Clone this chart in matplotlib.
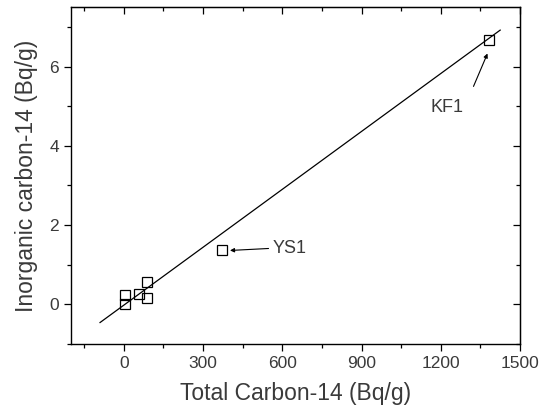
import numpy as np
import matplotlib
matplotlib.use("Agg")
from matplotlib import pyplot as plt
from matplotlib.ticker import MultipleLocator

plt.rcParams['font.family'] = ['Liberation Sans', 'DejaVu Sans']

# measured samples
total_c14 = [5, 5, 57, 87, 87, 371, 1382]
inorganic_c14 = [0.23, 0.02, 0.27, 0.57, 0.17, 1.38, 6.68]

# fitted line
fit_slope = 0.00487
fit_intercept = -0.02
fit_x_range = [-90, 1425]

text_color = '#3a3a3a'

fig = plt.figure(figsize=(5.52, 4.19), dpi=100)
ax = fig.add_axes([0.1286, 0.179, 0.8134, 0.804])

fx = np.array(fit_x_range)
ax.plot(fx, fit_slope * fx + fit_intercept, color='black', lw=0.9)
ax.plot(total_c14, inorganic_c14, ls='none', marker='s', ms=6.5,
        mfc='none', mec='black', mew=0.9)

arrow = dict(arrowstyle='-|>', color='black', lw=0.8, mutation_scale=6,
             shrinkA=0, shrinkB=0)
ax.annotate('', xy=(402, 1.36), xytext=(548, 1.41), arrowprops=arrow)
ax.text(565, 1.40, 'YS1', fontsize=13, color=text_color, ha='left', va='center')
ax.annotate('', xy=(1377, 6.33), xytext=(1324, 5.50), arrowprops=arrow)
ax.text(1224, 4.97, 'KF1', fontsize=13, color=text_color, ha='center', va='center')

ax.set_xlim(-200, 1500)
ax.set_ylim(-1, 7.5)
ax.xaxis.set_major_locator(MultipleLocator(300))
ax.xaxis.set_minor_locator(MultipleLocator(150))
ax.yaxis.set_major_locator(MultipleLocator(2))
ax.yaxis.set_minor_locator(MultipleLocator(1))

ax.tick_params(which='both', direction='out', top=False, right=False,
               labelsize=12.5, labelcolor=text_color, width=0.9)
ax.tick_params(which='major', length=5)
ax.tick_params(which='minor', length=3)

# mirrored inside ticks on top/right
sec_x = ax.secondary_xaxis('top')
sec_x.xaxis.set_major_locator(MultipleLocator(300))
sec_x.xaxis.set_minor_locator(MultipleLocator(150))
sec_x.tick_params(which='both', direction='in', labeltop=False, width=0.9)
sec_x.tick_params(which='major', length=5)
sec_x.tick_params(which='minor', length=3)
sec_y = ax.secondary_yaxis('right')
sec_y.yaxis.set_major_locator(MultipleLocator(2))
sec_y.yaxis.set_minor_locator(MultipleLocator(1))
sec_y.tick_params(which='both', direction='in', labelright=False, width=0.9)
sec_y.tick_params(which='major', length=5)
sec_y.tick_params(which='minor', length=3)

for sp in ax.spines.values():
    sp.set_linewidth(1.0)

ax.set_xlabel('Total Carbon-14 (Bq/g)', fontsize=16.5, color=text_color, labelpad=8)
ax.set_ylabel('Inorganic carbon-14 (Bq/g)', fontsize=16.5, color=text_color, labelpad=8)

fig.savefig('out.png', dpi=100)
